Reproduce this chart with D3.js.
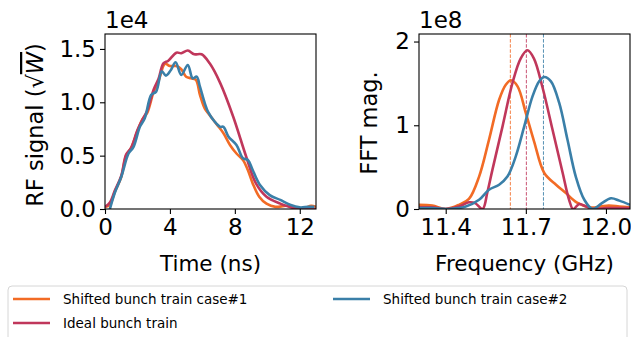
<!DOCTYPE html>
<html>
<head>
<meta charset="utf-8">
<script src="https://cdn.jsdelivr.net/npm/d3@7"></script>
<style>
  body { margin: 0; background: #fff; }
  svg { font-family: "DejaVu Sans", sans-serif; }
</style>
</head>
<body>
<div class="grafico"></div>
<script>
// series names / colours
var names = ["Shifted bunch train case#1", "Ideal bunch train", "Shifted bunch train case#2"];
var colors = ["#f26b25", "#c0375b", "#3a7fa8"];

// time signal (x1e4), time in ns
var timeCase1 = [0, 0.3, 0.6, 1.0, 1.3, 1.6, 2.0, 2.3, 2.6, 3.0, 3.3, 3.7, 4.0, 4.4, 4.7, 5.0, 5.3, 5.6, 5.85, 6.15, 6.45, 6.9, 7.3, 7.7, 8.1, 8.5, 8.8, 9.1, 9.5, 9.95, 10.5, 11.2, 11.8, 12.3, 12.7, 13];
var sigCase1 = [0.02, 0.04, 0.16, 0.30, 0.50, 0.57, 0.73, 0.84, 0.90, 1.10, 1.20, 1.36, 1.34, 1.34, 1.31, 1.24, 1.225, 1.21, 1.07, 0.94, 0.88, 0.79, 0.71, 0.60, 0.52, 0.46, 0.365, 0.24, 0.115, 0.05, 0.02, 0.03, 0.01, 0.01, 0.03, 0.02];

var timeIdeal = [0, 0.3, 0.6, 1.0, 1.3, 1.6, 2.0, 2.35, 2.6, 3.0, 3.3, 3.6, 3.9, 4.4, 4.7, 5.1, 5.5, 5.95, 6.45, 7.1, 7.9, 8.7, 9.3, 9.95, 10.8, 11.6, 12.3, 13];
var sigIdeal = [0.02, 0.06, 0.17, 0.31, 0.51, 0.57, 0.74, 0.85, 0.92, 1.12, 1.22, 1.365, 1.39, 1.465, 1.46, 1.485, 1.45, 1.45, 1.365, 1.18, 0.865, 0.49, 0.24, 0.115, 0.05, 0.01, 0.005, 0.0];

var timeCase2 = [0.3, 0.6, 1.0, 1.45, 1.75, 2.15, 2.45, 2.85, 3.15, 3.5, 3.75, 4.05, 4.35, 4.7, 5.1, 5.4, 5.65, 5.85, 6.15, 6.35, 6.75, 7.1, 7.3, 7.6, 8.1, 8.5, 8.8, 9.1, 9.55, 10.15, 10.8, 11.4, 12.0, 12.5, 12.9];
var sigCase2 = [0.0, 0.15, 0.30, 0.52, 0.58, 0.77, 0.85, 1.07, 1.10, 1.29, 1.25, 1.30, 1.375, 1.256, 1.35, 1.225, 1.24, 1.146, 0.99, 0.91, 0.82, 0.77, 0.77, 0.68, 0.60, 0.475, 0.46, 0.365, 0.225, 0.13, 0.085, 0.04, 0.015, 0.02, 0.02];

// FFT magnitude (x1e8), frequency in GHz
var freqCase1 = [11.3, 11.35, 11.4, 11.45, 11.487, 11.525, 11.562, 11.6, 11.625, 11.644, 11.669, 11.7, 11.731, 11.769, 11.813, 11.85, 11.89, 11.94, 11.98, 12.01, 12.05, 12.09];
var fftCase1 = [0.05, 0.04, 0.0, 0.05, 0.12, 0.387, 0.826, 1.305, 1.485, 1.537, 1.465, 1.146, 0.806, 0.43, 0.29, 0.19, 0.08, 0.02, 0.03, 0.04, 0.03, 0.02];

var freqIdeal = [11.3, 11.35, 11.4, 11.45, 11.487, 11.51, 11.538, 11.556, 11.575, 11.613, 11.65, 11.681, 11.706, 11.73, 11.763, 11.8, 11.838, 11.862, 11.877, 11.9, 11.925, 11.95, 12.0, 12.05, 12.09];
var fftIdeal = [0.02, 0.02, 0.0, 0.03, 0.08, 0.07, 0.0, 0.2, 0.47, 0.99, 1.505, 1.80, 1.896, 1.80, 1.445, 0.946, 0.43, 0.11, 0.0, 0.06, 0.03, 0.0, 0.01, 0.01, 0.01];

var freqCase2 = [11.3, 11.35, 11.41, 11.475, 11.525, 11.562, 11.6, 11.631, 11.662, 11.694, 11.725, 11.75, 11.769, 11.794, 11.825, 11.856, 11.887, 11.919, 11.95, 11.985, 12.019, 12.05, 12.09];
var fftCase2 = [0.01, 0.01, 0.0, 0.03, 0.11, 0.23, 0.29, 0.387, 0.626, 0.986, 1.345, 1.525, 1.577, 1.525, 1.266, 0.826, 0.387, 0.11, 0.0, 0.07, 0.128, 0.10, 0.05];

// peak frequency markers
var peakFreqs = [11.642, 11.702, 11.766];

var timeTicks = [0, 4, 8, 12];
var sigTicks = [0, 0.5, 1.0, 1.5];
var freqTicks = [11.4, 11.7, 12.0];
var fftTicks = [0, 1, 2];

var width = 631, height = 337;
var svg = d3.select(".grafico").append("svg")
  .attr("width", width).attr("height", height);

function zip(xs, ys){ return xs.map(function(x, i){ return [x, ys[i]]; }); }

function painel(opts){
  var x = d3.scaleLinear().domain(opts.xDomain).range([opts.left, opts.right]);
  var y = d3.scaleLinear().domain(opts.yDomain).range([opts.bottom, opts.top]);

  var g = svg.append("g");
  var clipId = "clip" + opts.id;
  svg.append("clipPath").attr("id", clipId).append("rect")
    .attr("x", opts.left).attr("y", opts.top)
    .attr("width", opts.right - opts.left).attr("height", opts.bottom - opts.top);

  var plot = g.append("g").attr("clip-path", "url(#" + clipId + ")");

  if (opts.vlines) {
    opts.vlines.forEach(function(f, i){
      plot.append("line")
        .attr("x1", x(f)).attr("x2", x(f))
        .attr("y1", opts.top).attr("y2", opts.bottom)
        .attr("stroke", colors[i]).attr("stroke-width", 1)
        .attr("stroke-dasharray", "3.5,1.6").attr("opacity", 0.85);
    });
  }

  var line = d3.line()
    .x(function(d){ return x(d[0]); })
    .y(function(d){ return y(d[1]); })
    .curve(d3.curveCatmullRom.alpha(0.5));

  opts.series.forEach(function(s, i){
    plot.append("path")
      .attr("d", line(s))
      .attr("fill", "none")
      .attr("stroke", colors[i])
      .attr("stroke-width", 2.6)
      .attr("stroke-linejoin", "round");
  });

  var xAxis = d3.axisBottom(x).tickValues(opts.xTicks).tickFormat(opts.xFmt)
    .tickSizeInner(5).tickSizeOuter(0).tickPadding(5);
  var yAxis = d3.axisLeft(y).tickValues(opts.yTicks).tickFormat(opts.yFmt)
    .tickSizeInner(5).tickSizeOuter(0).tickPadding(4);

  var gx = g.append("g").attr("transform", "translate(0," + opts.bottom + ")").call(xAxis);
  var gy = g.append("g").attr("transform", "translate(" + opts.left + ",0)").call(yAxis);
  [gx, gy].forEach(function(a){
    a.select(".domain").remove();
    a.selectAll(".tick line").attr("stroke", "#000").attr("stroke-width", 1.1);
    a.selectAll(".tick text").attr("fill", "#000").style("font-size", "23px")
      .style("font-family", "DejaVu Sans");
  });

  g.append("rect")
    .attr("x", opts.left).attr("y", opts.top)
    .attr("width", opts.right - opts.left).attr("height", opts.bottom - opts.top)
    .attr("fill", "none").attr("stroke", "#000").attr("stroke-width", 1.1);

  g.append("text")
    .attr("x", opts.left).attr("y", opts.top - 6)
    .style("font-size", "23px").text(opts.offset);

  g.append("text")
    .attr("x", (opts.left + opts.right) / 2).attr("y", opts.bottom + 62)
    .attr("text-anchor", "middle").style("font-size", "21.5px")
    .text(opts.xLabel);

  return g;
}

var g1 = painel({
  id: 1, left: 105, right: 316, top: 34, bottom: 209,
  xDomain: [0, 13], yDomain: [0, 1.64],
  xTicks: timeTicks, yTicks: sigTicks,
  xFmt: d3.format("d"), yFmt: d3.format(".1f"),
  offset: "1e4", xLabel: "Time (ns)",
  series: [zip(timeCase1, sigCase1), zip(timeIdeal, sigIdeal), zip(timeCase2, sigCase2)]
});

var yl1 = g1.append("text")
  .attr("transform", "translate(43,125) rotate(-90)")
  .attr("text-anchor", "middle").style("font-size", "22.5px");
yl1.append("tspan").text("RF signal (\u221A");
yl1.append("tspan").text("W").style("font-style", "italic")
  .style("text-decoration", "overline");
yl1.append("tspan").text(")");

var g2 = painel({
  id: 2, left: 419, right: 630, top: 34, bottom: 209,
  xDomain: [11.3, 12.09], yDomain: [0, 2.09],
  xTicks: freqTicks, yTicks: fftTicks,
  xFmt: d3.format(".1f"), yFmt: d3.format("d"),
  offset: "1e8", xLabel: "Frequency (GHz)",
  vlines: peakFreqs,
  series: [zip(freqCase1, fftCase1), zip(freqIdeal, fftIdeal), zip(freqCase2, fftCase2)]
});

g2.append("text")
  .attr("transform", "translate(377,123) rotate(-90)")
  .attr("text-anchor", "middle").style("font-size", "22.5px")
  .text("FFT mag.");

// legend
var leg = svg.append("g");
leg.append("rect")
  .attr("x", 8).attr("y", 286).attr("width", 619).attr("height", 60)
  .attr("rx", 4).attr("fill", "#fff").attr("stroke", "#d6d6d6").attr("stroke-width", 1);

var legPos = [[13, 299], [13, 323], [333, 299]];
names.forEach(function(n, i){
  leg.append("line")
    .attr("x1", legPos[i][0]).attr("x2", legPos[i][0] + 37)
    .attr("y1", legPos[i][1]).attr("y2", legPos[i][1])
    .attr("stroke", colors[i]).attr("stroke-width", 2.6);
  leg.append("text")
    .attr("x", legPos[i][0] + 50).attr("y", legPos[i][1] + 5)
    .style("font-size", "13.5px").text(n);
});
</script>
</body>
</html>
